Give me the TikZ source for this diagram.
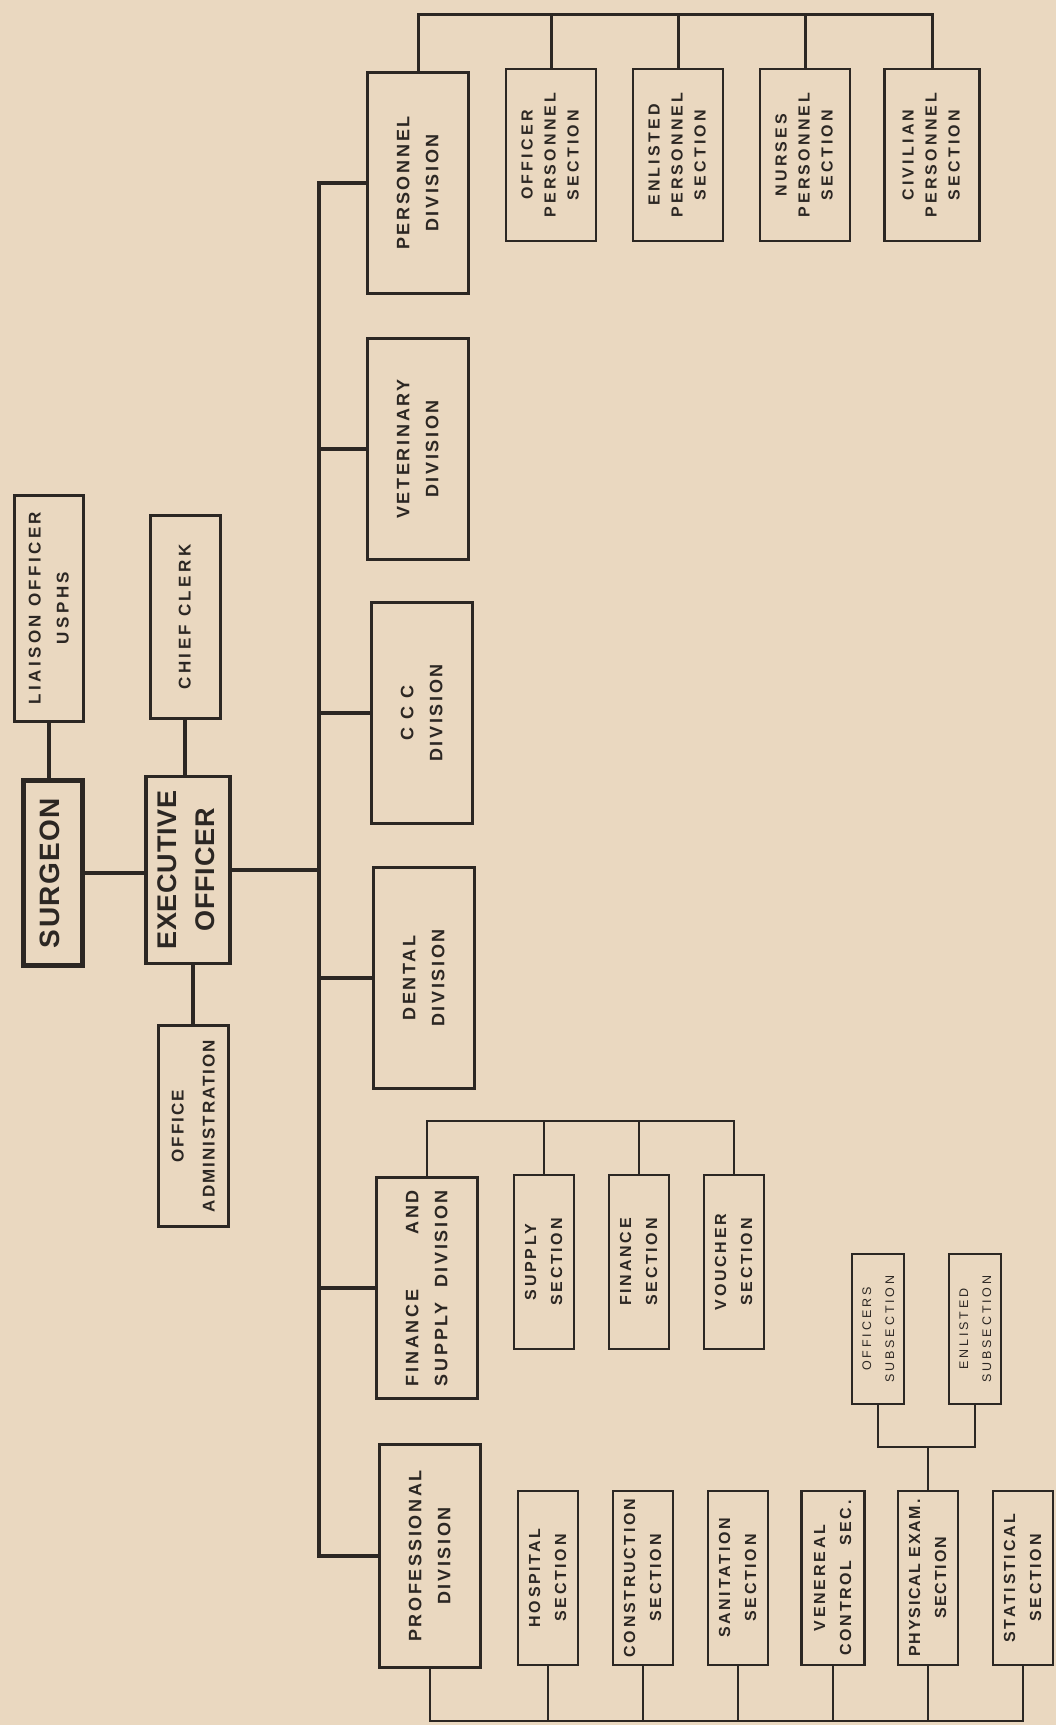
\documentclass[tikz,border=0pt]{standalone}
\usepackage{fontspec}
\usepackage{graphicx}
\usepackage{tikz}
\usetikzlibrary{positioning}
\newfontfamily\chartfont{Liberation Sans}
\definecolor{paper}{RGB}{234,216,192}
\definecolor{ink}{RGB}{44,39,35}
\newcommand{\vtext}[1]{\rotatebox{90}{\begin{tabular}{@{}c@{}}#1\end{tabular}}}

\begin{document}
\begin{tikzpicture}[x=1pt,y=-1pt]
    \tikzset{
      topbox/.style={draw=ink, text=ink, rectangle, inner sep=0pt, line width=5pt, minimum width=59pt, minimum height=185pt, font=\fontsize{28}{34}\selectfont\chartfont\bfseries\addfontfeatures{LetterSpace=5}},
      head/.style={draw=ink, text=ink, rectangle, inner sep=0pt, line width=3.3pt, minimum width=84pt, minimum height=187pt, font=\fontsize{27}{38}\selectfont\chartfont\bfseries\addfontfeatures{LetterSpace=3}},
      staff/.style={draw=ink, text=ink, rectangle, inner sep=0pt, line width=3pt, minimum width=70pt, minimum height=203pt, font=\fontsize{17}{28}\selectfont\chartfont\bfseries\addfontfeatures{LetterSpace=20}},
      div/.style={draw=ink, text=ink, rectangle, inner sep=0pt, line width=3.3pt, minimum width=101pt, minimum height=221pt, font=\fontsize{18}{29}\selectfont\chartfont\bfseries\addfontfeatures{LetterSpace=15}},
      psec/.style={draw=ink, text=ink, rectangle, inner sep=0pt, line width=2.6pt, minimum width=90pt, minimum height=172pt, node distance=127pt, font=\fontsize{16}{23}\selectfont\chartfont\bfseries\addfontfeatures{LetterSpace=20}},
      sec/.style={draw=ink, text=ink, rectangle, inner sep=0pt, line width=2.3pt, minimum width=60pt, minimum height=174pt, node distance=95pt, font=\fontsize{16}{26}\selectfont\chartfont\bfseries\addfontfeatures{LetterSpace=17}},
      subsec/.style={draw=ink, text=ink, rectangle, inner sep=0pt, line width=1.3pt, minimum width=52pt, minimum height=150pt, node distance=97pt, font=\fontsize{12.5}{23}\selectfont\chartfont\addfontfeatures{LetterSpace=23}},
      line/.style={draw=ink, line width=4pt},
      pline/.style={draw=ink, line width=3pt},
      secline/.style={draw=ink, line width=2.5pt},
      subline/.style={draw=ink, line width=1.4pt}
    }
    \fill [paper] (0,0) rectangle (1056,1725);
    \useasboundingbox (0,0) rectangle (1056,1725);

    \node [topbox] (surgeon) at (53,873) {\vtext{SURGEON}};
    \node [staff, minimum height=226pt, minimum width=69pt] (liaison) at (49,608) {\vtext{LIAISON OFFICER\\USPHS}};
    \node [head] (exec) at (188,870) {\vtext{EXECUTIVE\\OFFICER}};
    \node [staff] (clerk) at (185,617) {\vtext{CHIEF CLERK}};
    \node [staff, minimum height=201pt, font=\fontsize{17}{31}\selectfont\chartfont\bfseries\addfontfeatures{LetterSpace=12}] (offadm) at (193,1126) {\vtext{OFFICE\\ADMINISTRATION}};

    \node [div] (persdiv) at (418,183) {\vtext{PERSONNEL\\DIVISION}};
    \node [div] (vetdiv) at (418,449) {\vtext{VETERINARY\\DIVISION}};
    \node [div] (cccdiv) at (422,713) {\vtext{C C C\\DIVISION}};
    \node [div] (dentdiv) at (424,978) {\vtext{DENTAL\\DIVISION}};
    \node [div] (findiv) at (427,1288) {\vtext{\makebox[196pt][s]{FINANCE AND}\\\makebox[196pt][s]{SUPPLY DIVISION}}};
    \node [div, minimum height=223pt] (profdiv) at (430,1556) {\vtext{PROFESSIONAL\\DIVISION}};

    \node [psec] (offpers) at (551,155) {\vtext{OFFICER\\PERSONNEL\\SECTION}};
    \node [psec, right of=offpers] (enlpers) {\vtext{ENLISTED\\PERSONNEL\\SECTION}};
    \node [psec, right of=enlpers] (nurpers) {\vtext{NURSES\\PERSONNEL\\SECTION}};
    \node [psec, right of=nurpers, minimum width=95pt] (civpers) {\vtext{CIVILIAN\\PERSONNEL\\SECTION}};

    \node [sec] (supply) at (544,1262) {\vtext{SUPPLY\\SECTION}};
    \node [sec, right of=supply] (finsec) {\vtext{FINANCE\\SECTION}};
    \node [sec, right of=finsec] (voucher) {\vtext{VOUCHER\\SECTION}};

    \node [sec] (hospsec) at (548,1578) {\vtext{HOSPITAL\\SECTION}};
    \node [sec, right of=hospsec] (conssec) {\vtext{CONSTRUCTION\\SECTION}};
    \node [sec, right of=conssec] (sanisec) {\vtext{SANITATION\\SECTION}};
    \node [sec, right of=sanisec, minimum width=63pt] (vensec) {\vtext{VENEREAL\\CONTROL\ \ SEC.}};
    \node [sec, right of=vensec] (physsec) {\addfontfeatures{LetterSpace=11}\vtext{PHYSICAL EXAM.\\SECTION}};
    \node [sec, right of=physsec] (statsec) {\vtext{STATISTICAL\\SECTION}};

    \node [subsec] (offsub) at (878,1329) {\vtext{OFFICERS\\SUBSECTION}};
    \node [subsec, right of=offsub] (enlsub) {\vtext{ENLISTED\\SUBSECTION}};

    \coordinate (bus) at (319,0);
    \coordinate (ptop) at (0,14);
    \coordinate (ftop) at (0,1121);
    \coordinate (pbot) at (0,1721);
    \coordinate (sbar) at (0,1447);

    \path [line] (liaison.south) -- (liaison.south |- surgeon.north);
    \path [line] (surgeon.east) -- (surgeon.east -| exec.west);
    \path [line] (clerk.south) -- (clerk.south |- exec.north);
    \path [line] (offadm.north) -- (offadm.north |- exec.south);
    \path [line] (exec.east) -- (exec.east -| bus);
    \path [line] (persdiv.west) -- (persdiv.west -| bus) -- (profdiv.west -| bus) -- (profdiv.west);
    \foreach \d in {vetdiv,cccdiv,dentdiv,findiv}
      \path [line] (\d.west -| bus) -- (\d.west);

    \path [pline] (persdiv.north) -- (persdiv.north |- ptop) -- (civpers.north |- ptop) -- (civpers.north);
    \foreach \s in {offpers,enlpers,nurpers}
      \path [pline] (\s.north) -- (\s.north |- ptop);

    \path [secline] (findiv.north) -- (findiv.north |- ftop) -- (voucher.north |- ftop) -- (voucher.north);
    \foreach \s in {supply,finsec}
      \path [secline] (\s.north) -- (\s.north |- ftop);

    \path [secline] (profdiv.south) -- (profdiv.south |- pbot) -- (statsec.south |- pbot) -- (statsec.south);
    \foreach \s in {hospsec,conssec,sanisec,vensec,physsec}
      \path [secline] (\s.south) -- (\s.south |- pbot);

    \path [subline] (offsub.south) -- (offsub.south |- sbar) -- (enlsub.south |- sbar) -- (enlsub.south);
    \path [subline] (physsec.north) -- (physsec.north |- sbar);
\end{tikzpicture}
\end{document}
